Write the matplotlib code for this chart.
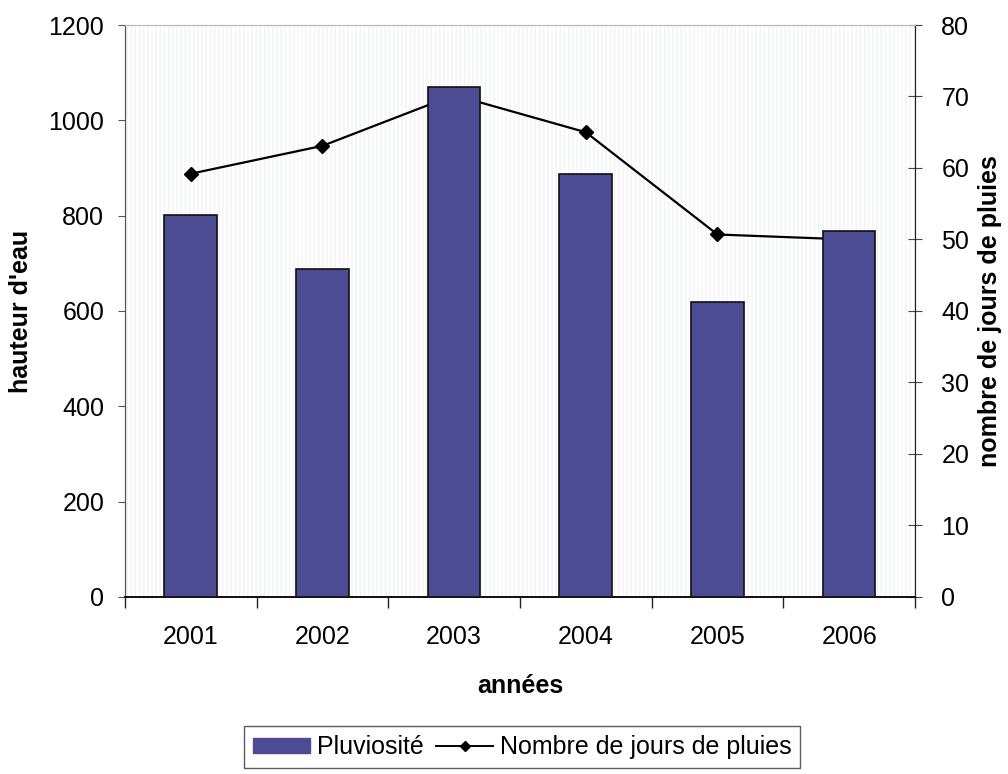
import matplotlib
matplotlib.use("Agg")
import matplotlib.pyplot as plt
from matplotlib.lines import Line2D
from matplotlib.patches import Patch, Rectangle
import numpy as np

plt.rcParams['font.family'] = ['Liberation Sans', 'DejaVu Sans']

years = ["2001", "2002", "2003", "2004", "2005", "2006"]
pluviosite = [802, 688, 1070, 887, 618, 767]
jours_pluie = [59.2, 63.1, 70.2, 65.0, 50.7, 50.0]
left_ticks = [0, 200, 400, 600, 800, 1000, 1200]
right_ticks = [0, 10, 20, 30, 40, 50, 60, 70, 80]

bar_color = "#4b4c94"

fig = plt.figure(figsize=(10.08, 7.74), dpi=100)
ax = fig.add_axes([0.124, 0.2287, 0.7837, 0.739])
ax2 = ax.twinx()

x = np.arange(len(years))

# background on ax2 (bottom layer), bars on ax drawn above the line
ax.set_zorder(ax2.get_zorder() + 1)
ax.patch.set_visible(False)
ax2.patch.set_facecolor("#e3e5e8")
ax2.add_patch(Rectangle((0, 0), 1, 1, transform=ax2.transAxes, facecolor="none",
                        edgecolor="#f2f3f5", hatch="||||", lw=0, zorder=0))

ax.bar(x, pluviosite, width=0.40, color=bar_color, edgecolor="#111111", linewidth=1.2, zorder=3)
ax2.plot(x, jours_pluie, color="black", lw=1.6, marker="D", markersize=7, zorder=2)

ax.set_xlim(-0.5, len(years) - 0.5)
ax.set_ylim(0, 1200)
ax2.set_ylim(0, 80)

ax.set_xticks(x)
ax.set_xticklabels(years, fontsize=18)
ax.set_xticks(np.arange(-0.5, len(years), 1.0), minor=True)
ax.tick_params(axis="x", which="major", length=0, pad=20)
ax.tick_params(axis="x", which="minor", length=8, direction="out", color="#222222", width=1)

ax.set_yticks(left_ticks)
ax.set_yticklabels([str(v) for v in left_ticks], fontsize=18)
ax.tick_params(axis="y", length=5, direction="out", color="#555555", pad=10)

ax2.set_yticks(right_ticks)
ax2.set_yticklabels([str(v) for v in right_ticks], fontsize=18)
ax2.tick_params(axis="y", length=10, direction="inout", color="#444444", pad=14)

for a in (ax, ax2):
    a.spines["top"].set_color("#bbbbbb")
    a.spines["left"].set_color("#555555")
    a.spines["right"].set_color("#222222")
    a.spines["bottom"].set_color("#111111")
    a.spines["bottom"].set_linewidth(1.3)

ax.set_ylabel("hauteur d'eau", fontsize=18, fontweight="bold")
ax.yaxis.set_label_coords(-0.116, 0.5)
ax2.set_ylabel("nombre de jours de pluies", fontsize=18, fontweight="bold", rotation=90)
ax2.yaxis.set_label_coords(1.080, 0.5)
ax.set_xlabel("années", fontsize=18, fontweight="bold", labelpad=18)

handles = [Patch(facecolor=bar_color, edgecolor=bar_color),
           Line2D([0], [0], color="black", lw=1.4, marker="D", markersize=5)]
leg = fig.legend(handles, ["Pluviosité", "Nombre de jours de pluies"],
                 loc="center", bbox_to_anchor=(0.518, 0.035), ncol=2,
                 fontsize=18, frameon=True, fancybox=False, edgecolor="#333333",
                 handlelength=2.3, handleheight=0.55, handletextpad=0.25,
                 columnspacing=0.5, borderpad=0.35, borderaxespad=0)
leg.get_frame().set_linewidth(1.0)

fig.savefig("out.png", dpi=100)
